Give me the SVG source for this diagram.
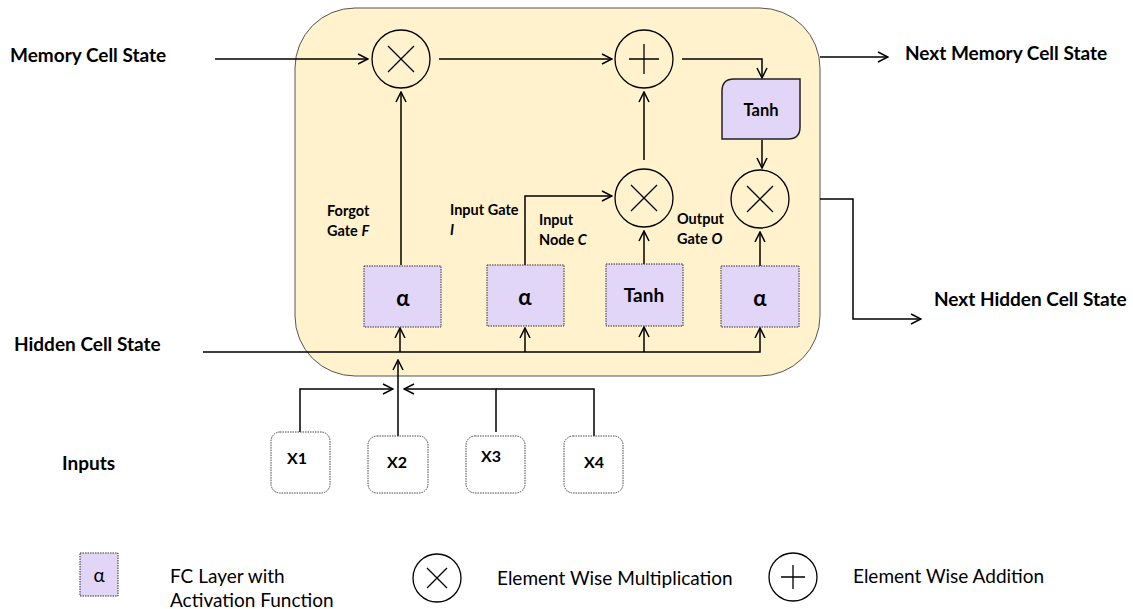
<svg xmlns="http://www.w3.org/2000/svg" width="1133" height="609" viewBox="0 0 1133 609">
  <defs>
    <marker id="arr" viewBox="0 0 12 12" refX="11" refY="6" markerWidth="12" markerHeight="12" markerUnits="userSpaceOnUse" orient="auto">
      <path d="M1,1 L11,6 L1,11" fill="none" stroke="#000" stroke-width="1.5"/>
    </marker>
  </defs>
  <style>
    .lbl { font-family: Lato, "Open Sans", sans-serif; font-weight: bold; fill: #000; }
    .big { font-size: 19px; }
    .gate { font-size: 14.5px; }
    .leg { font-family: Lato, "Open Sans", sans-serif; font-size: 19px; fill: #000; }
    .fc { fill: #E2D6F8; stroke: #333; stroke-width: 1; stroke-dasharray: 1.5 1; }
    .inp { fill: #fff; stroke: #444; stroke-width: 1; stroke-dasharray: 1.5 1; }
    .op { fill: none; stroke: #000; stroke-width: 1.3; }
    .wire { fill: none; stroke: #000; stroke-width: 1.5; }
    .boxtxt { font-family: Lato, "Open Sans", sans-serif; font-weight: bold; text-anchor: middle; fill: #000; }
  </style>

  <!-- cell body -->
  <g id="cell">
    <rect x="295" y="8" width="525" height="368" rx="60" ry="60" fill="#FFF2CC" stroke="#555" stroke-width="1"/>
  </g>

  <!-- connectors -->
  <g id="connectors">
    <path class="wire" d="M215,59 H368" marker-end="url(#arr)"/>
    <path class="wire" d="M439,59 H612" marker-end="url(#arr)"/>
    <path class="wire" d="M682,59 H762 V78" marker-end="url(#arr)"/>
    <path class="wire" d="M820,57 H888" marker-end="url(#arr)"/>
    <path class="wire" d="M762,140 V168" marker-end="url(#arr)"/>
    <path class="wire" d="M820,199 H853 V319 H921" marker-end="url(#arr)"/>
    <path class="wire" d="M401,265 V92" marker-end="url(#arr)"/>
    <path class="wire" d="M525,265 V196 H612" marker-end="url(#arr)"/>
    <path class="wire" d="M644,264 V231" marker-end="url(#arr)"/>
    <path class="wire" d="M644,160 V92" marker-end="url(#arr)"/>
    <path class="wire" d="M760,266 V232" marker-end="url(#arr)"/>
    <path class="wire" d="M203,352 H760 V328" marker-end="url(#arr)"/>
    <path class="wire" d="M400,352 V328" marker-end="url(#arr)"/>
    <path class="wire" d="M525,352 V328" marker-end="url(#arr)"/>
    <path class="wire" d="M644,352 V327" marker-end="url(#arr)"/>
    <path class="wire" d="M398,436 V360" marker-end="url(#arr)"/>
    <path class="wire" d="M300,432 V389 H393" marker-end="url(#arr)"/>
    <path class="wire" d="M594,436 V389 H496"/>
    <path class="wire" d="M496,432 V389 H404" stroke-width="2.5" marker-end="url(#arr)"/>
  </g>

  <!-- pointwise operators -->
  <g id="mul-forget">
    <circle class="op" cx="401" cy="59" r="29"/>
    <path class="op" d="M388,46 L414,72 M414,46 L388,72"/>
  </g>
  <g id="add-cell">
    <circle class="op" cx="644" cy="59" r="29"/>
    <path class="op" d="M644,44 V74 M629,59 H659"/>
  </g>
  <g id="mul-input">
    <circle class="op" cx="644" cy="198" r="29"/>
    <path class="op" d="M631,185 L657,211 M657,185 L631,211"/>
  </g>
  <g id="mul-output">
    <circle class="op" cx="760" cy="199" r="29"/>
    <path class="op" d="M747,186 L773,212 M773,186 L747,212"/>
  </g>

  <!-- tanh on the cell state -->
  <g id="tanh-cell">
    <path d="M734,79 H800 V127 Q800,139 788,139 H722 V91 Q722,79 734,79 Z" fill="#E2D6F8" stroke="#222" stroke-width="1.5"/>
    <text class="boxtxt" x="761" y="116" font-size="16.5">Tanh</text>
  </g>

  <!-- gate layers -->
  <g id="forget-gate">
    <rect class="fc" x="364" y="266" width="77" height="61"/>
    <text class="boxtxt" x="403" y="306" font-size="22">α</text>
  </g>
  <g id="input-gate">
    <rect class="fc" x="487" y="265" width="77" height="61"/>
    <text class="boxtxt" x="525" y="305" font-size="22">α</text>
  </g>
  <g id="input-node">
    <rect class="fc" x="606" y="264" width="77" height="62"/>
    <text class="boxtxt" x="644" y="302" font-size="19">Tanh</text>
  </g>
  <g id="output-gate">
    <rect class="fc" x="721" y="266" width="78" height="61"/>
    <text class="boxtxt" x="760" y="306" font-size="22">α</text>
  </g>

  <!-- inputs -->
  <g id="x1">
    <rect class="inp" x="271" y="432" width="59" height="61" rx="9"/>
    <text class="boxtxt" x="297" y="464" font-size="16">X1</text>
  </g>
  <g id="x2">
    <rect class="inp" x="368" y="436" width="60" height="57" rx="9"/>
    <text class="boxtxt" x="397" y="468" font-size="16">X2</text>
  </g>
  <g id="x3">
    <rect class="inp" x="466" y="436" width="59" height="57" rx="9"/>
    <text class="boxtxt" x="491" y="462" font-size="16">X3</text>
  </g>
  <g id="x4">
    <rect class="inp" x="564" y="436" width="59" height="57" rx="9"/>
    <text class="boxtxt" x="594" y="468" font-size="16">X4</text>
  </g>

  <!-- outer labels -->
  <g id="labels">
    <text class="lbl big" x="10" y="62">Memory Cell State</text>
    <text class="lbl big" x="14" y="351">Hidden Cell State</text>
    <text class="lbl big" x="62" y="470">Inputs</text>
    <text class="lbl big" x="905" y="60">Next Memory Cell State</text>
    <text class="lbl big" x="934" y="306">Next Hidden Cell State</text>

    <text class="lbl gate" x="327" y="216">Forgot</text>
    <text class="lbl gate" x="327" y="236">Gate <tspan font-style="italic">F</tspan></text>
    <text class="lbl gate" x="450" y="215">Input Gate</text>
    <text class="lbl gate" x="450" y="235" font-style="italic">I</text>
    <text class="lbl gate" x="539" y="225">Input</text>
    <text class="lbl gate" x="539" y="245">Node <tspan font-style="italic">C</tspan></text>
    <text class="lbl gate" x="677" y="224">Output</text>
    <text class="lbl gate" x="677" y="244">Gate <tspan font-style="italic">O</tspan></text>
  </g>

  <!-- legend -->
  <g id="legend-fc">
    <rect class="fc" x="80" y="553" width="38" height="43"/>
    <text x="99" y="582" font-family="Lato, 'Open Sans', sans-serif" font-size="19" text-anchor="middle">α</text>
    <text class="leg" x="170" y="583">FC Layer with</text>
    <text class="leg" x="170" y="607">Activation Function</text>
  </g>
  <g id="legend-mul">
    <circle class="op" cx="437" cy="578" r="24"/>
    <path class="op" d="M427,568 L447,588 M447,568 L427,588"/>
    <text class="leg" x="497" y="585">Element Wise Multiplication</text>
  </g>
  <g id="legend-add">
    <circle class="op" cx="793" cy="577" r="24"/>
    <path class="op" d="M793,565 V589 M781,577 H805"/>
    <text class="leg" x="853" y="583">Element Wise Addition</text>
  </g>
</svg>
